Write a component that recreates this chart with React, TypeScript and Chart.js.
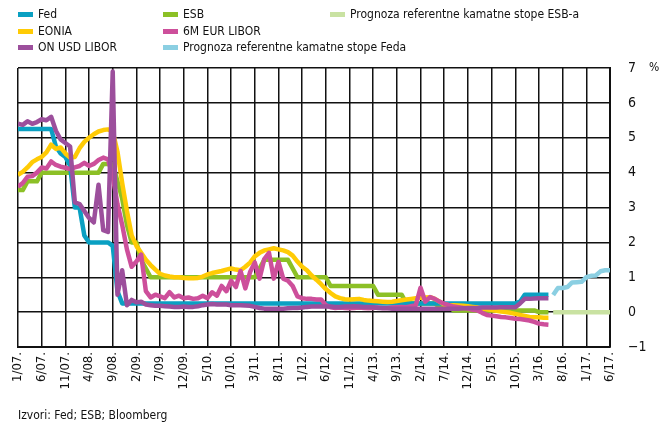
import React, { useEffect, useRef } from 'react';
import { Chart, registerables } from 'chart.js';

Chart.register(...registerables);

// Month index 0 = 1/2007. Actual series cover months 0..112, forecasts 113..125.
const tickLabels = [
  '1/07.', '6/07.', '11/07.', '4/08.', '9/08.', '2/09.', '7/09.', '12/09.', '5/10.', '10/10.',
  '3/11.', '8/11.', '1/12.', '6/12.', '11/12.', '4/13.', '9/13.', '2/14.', '7/14.', '12/14.',
  '5/15.', '10/15.', '3/16.', '8/16.', '1/17.', '6/17.',
];
const yTicks = [-1, 0, 1, 2, 3, 4, 5, 6, 7];

const fed = [
  5.25, 5.25, 5.25, 5.25, 5.25, 5.25, 5.25, 5.25, 4.75, 4.55, 4.45, 4.2,
  3.0, 3.0, 2.2, 2.0, 2.0, 2.0, 2.0, 2.0, 1.9, 0.6, 0.25, 0.25,
  0.25, 0.25, 0.25, 0.25, 0.25, 0.25, 0.25, 0.25, 0.25, 0.25, 0.25, 0.25,
  0.25, 0.25, 0.25, 0.25, 0.25, 0.25, 0.25, 0.25, 0.25, 0.25, 0.25, 0.25,
  0.25, 0.25, 0.25, 0.25, 0.25, 0.25, 0.25, 0.25, 0.25, 0.25, 0.25, 0.25,
  0.25, 0.25, 0.25, 0.25, 0.25, 0.25, 0.25, 0.25, 0.25, 0.25, 0.25, 0.25,
  0.25, 0.25, 0.25, 0.25, 0.25, 0.25, 0.25, 0.25, 0.25, 0.25, 0.25, 0.25,
  0.25, 0.25, 0.25, 0.25, 0.25, 0.25, 0.25, 0.25, 0.25, 0.25, 0.25, 0.25,
  0.25, 0.25, 0.25, 0.25, 0.25, 0.25, 0.25, 0.25, 0.25, 0.25, 0.3, 0.5,
  0.5, 0.5, 0.5, 0.5, 0.5,
];

const esb = [
  3.5, 3.5, 3.75, 3.75, 3.75, 4.0, 4.0, 4.0, 4.0, 4.0, 4.0, 4.0,
  4.0, 4.0, 4.0, 4.0, 4.0, 4.0, 4.25, 4.25, 4.25, 3.75, 3.25, 2.5,
  2.0, 2.0, 1.5, 1.25, 1.0, 1.0, 1.0, 1.0, 1.0, 1.0, 1.0, 1.0,
  1.0, 1.0, 1.0, 1.0, 1.0, 1.0, 1.0, 1.0, 1.0, 1.0, 1.0, 1.0,
  1.0, 1.0, 1.0, 1.25, 1.5, 1.5, 1.5, 1.5, 1.5, 1.5, 1.25, 1.0,
  1.0, 1.0, 1.0, 1.0, 1.0, 1.0, 0.75, 0.75, 0.75, 0.75, 0.75, 0.75,
  0.75, 0.75, 0.75, 0.75, 0.5, 0.5, 0.5, 0.5, 0.5, 0.5, 0.25, 0.25,
  0.25, 0.25, 0.25, 0.25, 0.25, 0.15, 0.15, 0.15, 0.05, 0.05, 0.05, 0.05,
  0.05, 0.05, 0.05, 0.05, 0.05, 0.05, 0.05, 0.05, 0.05, 0.05, 0.05, 0.05,
  0.05, 0.05, 0.0, 0.0, 0.0,
];

const eonia = [
  3.94, 4.02, 4.15, 4.3, 4.38, 4.45, 4.58, 4.8, 4.68, 4.72, 4.55, 4.43,
  4.45, 4.7, 4.88, 5.0, 5.1, 5.18, 5.22, 5.24, 5.18, 4.6, 3.7, 2.9,
  2.2, 1.9, 1.7, 1.5, 1.35, 1.22, 1.1, 1.05, 1.02, 1.0, 1.0, 0.98,
  0.97, 0.97, 0.98, 1.02, 1.08, 1.12, 1.15, 1.18, 1.22, 1.25, 1.22, 1.2,
  1.3, 1.42, 1.6, 1.7, 1.77, 1.8, 1.83, 1.8, 1.77, 1.72, 1.62, 1.45,
  1.3, 1.2, 1.05, 0.93, 0.8, 0.66, 0.55, 0.45, 0.4, 0.37, 0.36, 0.37,
  0.38, 0.35, 0.33, 0.32, 0.31, 0.3, 0.29, 0.3, 0.32, 0.34, 0.36, 0.38,
  0.4, 0.41, 0.42, 0.43, 0.38, 0.3, 0.22, 0.2, 0.2, 0.19, 0.18, 0.17,
  0.15, 0.13, 0.1, 0.08, 0.06, 0.04, 0.02, 0.0, -0.02, -0.05, -0.08, -0.11,
  -0.14, -0.15, -0.15, -0.16, -0.16,
];

const eurLibor6m = [
  3.6, 3.7, 3.88, 3.9, 4.0, 4.15, 4.12, 4.32, 4.22, 4.17, 4.14, 4.1,
  4.15, 4.19, 4.28, 4.19, 4.25, 4.36, 4.43, 4.38, 3.9, 3.1, 2.5, 1.8,
  1.3, 1.45, 1.65, 0.6, 0.42, 0.5, 0.45, 0.4, 0.57, 0.42, 0.47, 0.4,
  0.42, 0.38, 0.4, 0.47, 0.4, 0.57, 0.47, 0.75, 0.6, 0.9, 0.72, 1.18,
  0.68, 1.15, 1.42, 0.96, 1.52, 1.7, 0.96, 1.44, 0.96, 0.9, 0.75, 0.45,
  0.4, 0.38, 0.38, 0.36, 0.36, 0.2, 0.14, 0.12, 0.13, 0.12, 0.11, 0.12,
  0.13, 0.12, 0.11, 0.12, 0.13, 0.12, 0.12, 0.13, 0.14, 0.15, 0.14, 0.17,
  0.2, 0.7, 0.3, 0.43, 0.38, 0.3, 0.24, 0.2, 0.16, 0.14, 0.12, 0.1,
  0.07, 0.05, -0.02, -0.08, -0.1, -0.12, -0.14, -0.15, -0.17, -0.19, -0.2, -0.22,
  -0.24, -0.28, -0.33, -0.35, -0.36,
];

const onUsdLibor = [
  5.4, 5.37, 5.47, 5.4, 5.45, 5.53, 5.5, 5.6, 5.2, 4.95, 4.85, 4.75,
  3.15, 3.1, 2.9, 2.7, 2.57, 3.65, 2.35, 2.3, 6.9, 0.5, 1.2, 0.2,
  0.35, 0.28, 0.3, 0.22, 0.2, 0.18, 0.18, 0.17, 0.16, 0.15, 0.15, 0.16,
  0.15, 0.15, 0.17, 0.2, 0.22, 0.23, 0.22, 0.22, 0.22, 0.2, 0.2, 0.2,
  0.19, 0.18, 0.15, 0.12, 0.1, 0.1, 0.1, 0.1, 0.1, 0.11, 0.12, 0.12,
  0.13, 0.15, 0.16, 0.16, 0.16, 0.16, 0.16, 0.15, 0.15, 0.16, 0.16, 0.17,
  0.16, 0.15, 0.15, 0.14, 0.12, 0.11, 0.11, 0.1, 0.1, 0.1, 0.1, 0.1,
  0.1, 0.1, 0.1, 0.1, 0.1, 0.1, 0.1, 0.1, 0.1, 0.1, 0.11, 0.12,
  0.12, 0.12, 0.13, 0.13, 0.13, 0.13, 0.14, 0.14, 0.14, 0.14, 0.25, 0.38,
  0.38, 0.39, 0.4, 0.4, 0.4,
];

const forecastStart = 113;
const esbForecast = [0, 0, 0, 0, 0, 0, 0, 0, 0, 0, 0, 0, 0];
const fedForecast = [0.49, 0.69, 0.69, 0.72, 0.85, 0.86, 0.87, 1.0, 1.04, 1.05, 1.17, 1.2, 1.2];

const TEAL = '#0aa0c2';
const GREEN = '#8cc026';
const YELLOW = '#ffcb05';
const PINK = '#cd4f9b';
const PURPLE = '#9c4f9c';
const LGREEN = '#c9e2a2';
const LBLUE = '#8bcfe2';

const FONT = '"Liberation Sans Narrow", "DejaVu Sans Condensed", "Roboto", sans-serif';

const legendItems = [
  { label: 'Fed', color: TEAL, x: 18, y: 14 },
  { label: 'EONIA', color: YELLOW, x: 18, y: 31 },
  { label: 'ON USD LIBOR', color: PURPLE, x: 18, y: 47 },
  { label: 'ESB', color: GREEN, x: 163, y: 14 },
  { label: '6M EUR LIBOR', color: PINK, x: 163, y: 31 },
  { label: 'Prognoza referentne kamatne stope Feda', color: LBLUE, x: 163, y: 47 },
  { label: 'Prognoza referentne kamatne stope ESB-a', color: LGREEN, x: 330, y: 14 },
];

function toPoints(values: number[], start: number) {
  return values.map((y, i) => ({ x: start + i, y }));
}

export default function App() {
  const ref = useRef<HTMLCanvasElement>(null);

  useEffect(() => {
    const canvas = ref.current;
    if (!canvas) return;
    const ds = (label: string, values: number[], color: string, start = 0) => ({
      label,
      data: toPoints(values, start),
      borderColor: color,
      backgroundColor: color,
      borderWidth: 4.5,
      pointRadius: 0,
      pointHoverRadius: 0,
      tension: 0,
      fill: false,
      borderJoinStyle: 'round' as const,
      borderCapStyle: 'butt' as const,
    });
    const chart = new Chart(canvas, {
      type: 'line',
      data: {
        datasets: [
          ds('ON USD LIBOR', onUsdLibor, PURPLE),
          ds('6M EUR LIBOR', eurLibor6m, PINK),
          ds('EONIA', eonia, YELLOW),
          ds('Fed', fed, TEAL),
          ds('ESB', esb, GREEN),
          ds('Prognoza referentne kamatne stope ESB-a', esbForecast, LGREEN, forecastStart),
          ds('Prognoza referentne kamatne stope Feda', fedForecast, LBLUE, forecastStart),
        ],
      },
      options: {
        animation: false,
        responsive: false,
        maintainAspectRatio: false,
        events: [],
        layout: { padding: { left: 18, top: 68, right: 0, bottom: 0 } },
        plugins: { legend: { display: false }, tooltip: { enabled: false } },
        scales: {
          x: {
            type: 'linear',
            min: 0,
            max: 125,
            afterFit: (s: any) => { s.height = 82; },
            ticks: {
              stepSize: 5,
              autoSkip: false,
              maxRotation: 90,
              minRotation: 90,
              padding: 5,
              color: '#111',
              font: { family: FONT, size: 13 },
              callback: (v: any) => tickLabels[Math.round(Number(v) / 5)] ?? '',
            },
            grid: { color: '#111', lineWidth: 1.5, drawTicks: false },
            border: { color: '#111', width: 2 },
          },
          y: {
            position: 'right',
            min: -1,
            max: 7,
            afterFit: (s: any) => { s.width = 59; },
            afterBuildTicks: (s: any) => { s.ticks = yTicks.map((v) => ({ value: v })); },
            ticks: {
              padding: 18,
              color: '#111',
              font: { family: FONT, size: 14 },
              callback: (v: any) => (Number(v) < 0 ? '\u2212' + Math.abs(Number(v)) : String(v)),
            },
            grid: { color: '#111', lineWidth: 1.5, drawTicks: false },
            border: { color: '#111', width: 2 },
          },
        },
      },
    });
    return () => chart.destroy();
  }, []);

  return (
    <div style={{ position: 'fixed', left: 0, top: 0, width: 669, height: 429, background: '#fff', overflow: 'hidden', fontFamily: FONT, color: '#111' }}>
      <canvas ref={ref} width={669} height={429} style={{ position: 'absolute', left: 0, top: 0, width: 669, height: 429 }} />
      {legendItems.map((it) => (
        <div key={it.label} style={{ position: 'absolute', left: it.x, top: it.y - 8, height: 16, display: 'flex', alignItems: 'center', fontSize: 12, whiteSpace: 'nowrap' }}>
          <span style={{ display: 'inline-block', width: 15, height: 5, background: it.color, marginRight: 5 }} />
          <span>{it.label}</span>
        </div>
      ))}
      <div style={{ position: 'absolute', left: 649, top: 60, fontSize: 12 }}>%</div>
      <div style={{ position: 'absolute', left: 18, top: 408, fontSize: 12, whiteSpace: 'nowrap' }}>Izvori: Fed; ESB; Bloomberg</div>
    </div>
  );
}
